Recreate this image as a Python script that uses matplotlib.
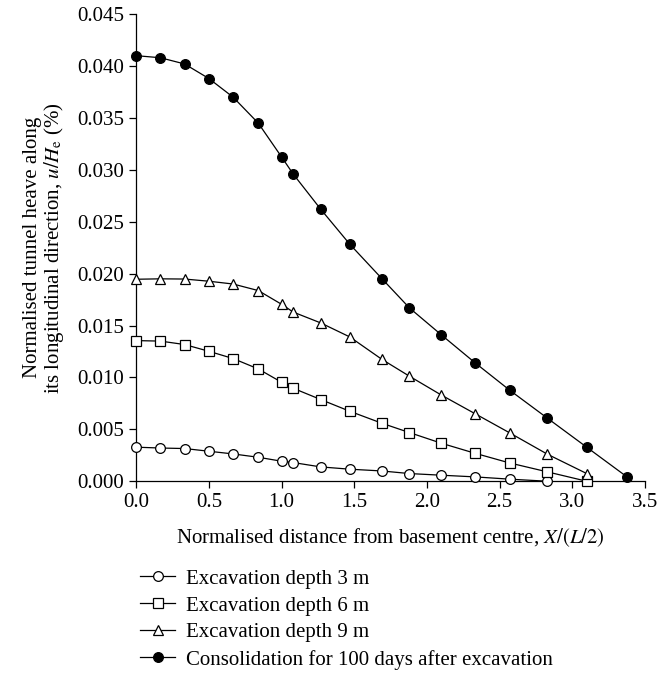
import numpy as np
import matplotlib
matplotlib.use("Agg")
import matplotlib.pyplot as plt

plt.rcParams['font.family'] = ['Liberation Serif', 'DejaVu Serif']
plt.rcParams['mathtext.fontset'] = 'stix'

# normalised distance X/(L/2) of the computed points
x_pts = [0.0, 0.167, 0.333, 0.5, 0.667, 0.84, 1.0, 1.08, 1.27, 1.47,
         1.69, 1.88, 2.1, 2.33, 2.57, 2.83, 3.1, 3.38]

depth3 = [0.00328, 0.0032, 0.00315, 0.00289, 0.00263, 0.00231, 0.00193, 0.0018,
          0.00138, 0.00116, 0.00099, 0.00074, 0.00058, 0.00042, 0.0002, 0.0]
depth6 = [0.01355, 0.0135, 0.01317, 0.01252, 0.01182, 0.01082, 0.00954, 0.00896,
          0.00787, 0.00674, 0.00559, 0.00469, 0.00366, 0.0027, 0.00176, 0.0009, 0.0]
depth9 = [0.01946, 0.0195, 0.01948, 0.01927, 0.0190, 0.01837, 0.01705, 0.0163,
          0.01525, 0.0139, 0.01175, 0.01012, 0.0083, 0.00652, 0.00466, 0.0026, 0.00074]
consol = [0.0410, 0.0408, 0.0402, 0.0388, 0.0370, 0.0345, 0.03125, 0.0296,
          0.0262, 0.02283, 0.01953, 0.0167, 0.0141, 0.01143, 0.00877, 0.00607,
          0.00328, 0.00039]

labels = ['Excavation depth 3 m', 'Excavation depth 6 m',
          'Excavation depth 9 m', 'Consolidation for 100 days after excavation']
series = [depth3, depth6, depth9, consol]
markers = ['o', 's', '^', 'o']
faces = ['white', 'white', 'white', 'black']

fs = 15

fig = plt.figure(figsize=(6.58, 6.74), dpi=100)
ax = fig.add_axes([0.207, 0.286, 0.773, 0.693])

handles = []
for ys, m, fc, lab in zip(series, markers, faces, labels):
    xs = x_pts[:len(ys)]
    h, = ax.plot(xs, ys, color='black', lw=0.9, marker=m, markersize=7,
                 markerfacecolor=fc, markeredgecolor='black', markeredgewidth=0.9,
                 clip_on=False, zorder=3, label=lab)
    handles.append(h)

ax.set_xlim(0, 3.5)
ax.set_ylim(0, 0.045)
ax.set_xticks(np.arange(0, 3.51, 0.5))
ax.set_yticks(np.arange(0, 0.0451, 0.005))
ax.xaxis.set_major_formatter(matplotlib.ticker.FormatStrFormatter('%.1f'))
ax.yaxis.set_major_formatter(matplotlib.ticker.FormatStrFormatter('%.3f'))
ax.spines['top'].set_visible(False)
ax.spines['right'].set_visible(False)
ax.tick_params(direction='out', length=5, width=0.9, labelsize=fs)
for s in ['left', 'bottom']:
    ax.spines[s].set_linewidth(0.9)

ax.set_xlabel('Normalised distance from basement centre, $X/(L/2)$', fontsize=fs, labelpad=10)
ax.set_ylabel('Normalised tunnel heave along\nits longitudinal direction, $u/H_\\mathrm{e}$ (%)',
              fontsize=fs, labelpad=8, linespacing=1.0)

fig.legend(handles=handles, loc='upper left', bbox_to_anchor=(0.2, 0.168),
           frameon=False, fontsize=fs, handlelength=1.7, handletextpad=0.5,
           labelspacing=0.35, borderaxespad=0)

fig.savefig('out.png', dpi=100)
